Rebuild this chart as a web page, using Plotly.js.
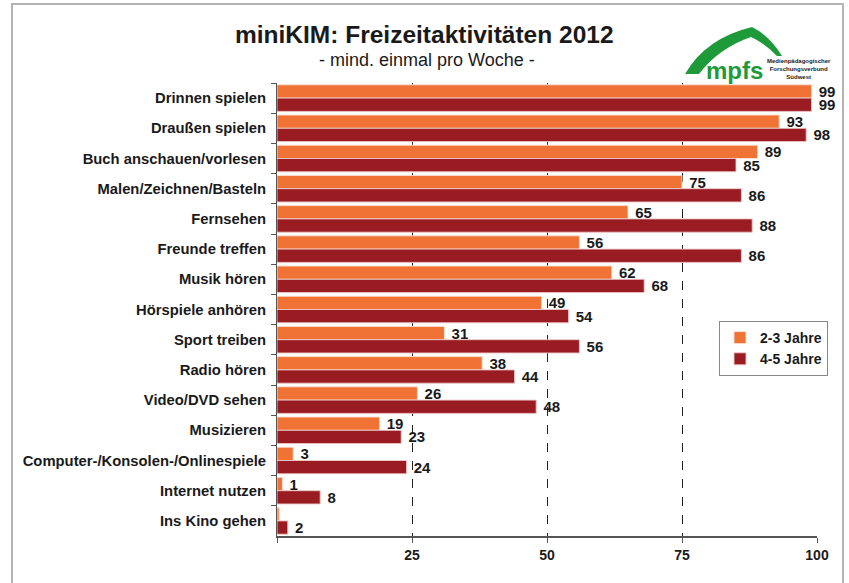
<!DOCTYPE html>
<html>
<head>
<meta charset="utf-8">
<script src="https://cdn.plot.ly/plotly-3.0.1.min.js"></script>
<style>
html,body{margin:0;padding:0;background:#fff;}
#chart{width:849px;height:583px;}
</style>
</head>
<body>
<div id="chart"></div>
<script>
const categories = [
  "Drinnen spielen",
  "Draußen spielen",
  "Buch anschauen/vorlesen",
  "Malen/Zeichnen/Basteln",
  "Fernsehen",
  "Freunde treffen",
  "Musik hören",
  "Hörspiele anhören",
  "Sport treiben",
  "Radio hören",
  "Video/DVD sehen",
  "Musizieren",
  "Computer-/Konsolen-/Onlinespiele",
  "Internet nutzen",
  "Ins Kino gehen"
];
const age23 = [99, 93, 89, 75, 65, 56, 62, 49, 31, 38, 26, 19, 3, 1, 0.4];
const age23Labels = ["99","93","89","75","65","56","62","49","31","38","26","19","3","1",""];
const age45 = [99, 98, 85, 86, 88, 86, 68, 54, 56, 44, 48, 23, 24, 8, 2];
const age45Labels = ["99","98","85","86","88","86","68","54","56","44","48","23","24","8","2"];
const xTicks = [0, 25, 50, 75, 100];
const xTickLabels = ["", "25", "50", "75", "100"];
const seriesNames = ["2-3 Jahre", "4-5 Jahre"];

// layout helpers (pixel -> paper) for decorations
const L = 277, R = 817, T = 83, B = 536;
const px = x => (x - L) / (R - L);
const py = y => (B - y) / (B - T);

const FONT = "Liberation Sans, Arial, sans-serif";
const orange = "#F07234";
const red = "#981C22";

const traces = [
  {
    type: "bar", orientation: "h", name: seriesNames[0],
    y: categories, x: age23, text: age23Labels, texttemplate: "\u00a0%{text}",
    textposition: "outside", constraintext: "none", cliponaxis: false,
    textfont: {family: FONT, size: 15, weight: "bold", color: "#1a1a1a"},
    marker: {color: orange, line: {color: "rgba(255,225,215,0.9)", width: 1}},
    hoverinfo: "x+y"
  },
  {
    type: "bar", orientation: "h", name: seriesNames[1],
    y: categories, x: age45, text: age45Labels, texttemplate: "\u00a0%{text}",
    textposition: "outside", constraintext: "none", cliponaxis: false,
    textfont: {family: FONT, size: 15, weight: "bold", color: "#1a1a1a"},
    marker: {color: red, line: {color: "rgba(240,200,200,0.9)", width: 1}},
    hoverinfo: "x+y"
  }
];

function pathFromPx(cmds) {
  return cmds.map(c => {
    if (typeof c === "string") return c;
    return px(c[0]).toFixed(4) + "," + py(c[1]).toFixed(4);
  }).join(" ");
}

const swoosh = pathFromPx([
  "M", [685, 74],
  "Q", [706, 38], [752, 27],
  "Q", [770, 36], [782, 56],
  "L", [777, 56],
  "Q", [766, 44], [751, 37],
  "Q", [719, 48], [699, 74],
  "Z"
]);

const layout = {
  width: 849, height: 583,
  margin: {l: L, r: 849 - R, t: T, b: 583 - B, pad: 0, autoexpand: false},
  paper_bgcolor: "#ffffff", plot_bgcolor: "#ffffff",
  font: {family: FONT, color: "#1a1a1a"},
  barmode: "group", bargap: 0.12, bargroupgap: 0,
  showlegend: true,
  legend: {
    x: px(719), y: py(321), xanchor: "left", yanchor: "top",
    bgcolor: "#ffffff", bordercolor: "#888888", borderwidth: 1,
    font: {family: FONT, size: 14, weight: "bold", color: "#1a1a1a"},
    tracegroupgap: 2, itemwidth: 30
  },
  xaxis: {
    range: [0, 100], tickvals: xTicks, ticktext: xTickLabels,
    showgrid: true, gridcolor: "#222222", griddash: "dash", gridwidth: 1,
    zeroline: false, showline: true, linecolor: "#555555", linewidth: 2,
    ticks: "outside", ticklen: 5, tickcolor: "#555555", tickwidth: 1,
    tickfont: {family: FONT, size: 14, weight: "bold", color: "#1a1a1a"},
    automargin: false, fixedrange: true
  },
  yaxis: {
    type: "category", autorange: "reversed",
    showgrid: false, zeroline: false,
    showline: true, linecolor: "#555555", linewidth: 1,
    ticks: "outside", tickson: "boundaries", ticklen: 5, tickcolor: "#555555",
    ticklabelstandoff: 7,
    tickfont: {family: FONT, size: 14.8, weight: "bold", color: "#1a1a1a"},
    automargin: false, fixedrange: true
  },
  annotations: [
    {xref: "paper", yref: "paper", x: px(424), y: py(35), xanchor: "center", yanchor: "middle",
     text: "<b>miniKIM: Freizeitaktivitäten 2012</b>", showarrow: false,
     font: {family: FONT, size: 24.5, color: "#1a1a1a"}},
    {xref: "paper", yref: "paper", x: px(427), y: py(60), xanchor: "center", yanchor: "middle",
     text: "- mind. einmal pro Woche -", showarrow: false,
     font: {family: FONT, size: 18, color: "#1a1a1a"}},
    {xref: "paper", yref: "paper", x: px(734), y: py(70), xanchor: "center", yanchor: "middle",
     text: "<b>mpfs</b>", showarrow: false,
     font: {family: FONT, size: 24, color: "#1f9a3a"}},
    {xref: "paper", yref: "paper", x: px(799), y: py(69), xanchor: "center", yanchor: "middle",
     text: "<b>Medienpädagogischer<br>Forschungsverbund<br>Südwest</b>", showarrow: false,
     font: {family: FONT, size: 6, color: "#1a1a1a"}}
  ],
  shapes: [
    {type: "path", xref: "paper", yref: "paper", path: swoosh,
     fillcolor: "#1f9a3a", line: {width: 0}},
    {type: "rect", xref: "paper", yref: "paper", layer: "below",
     x0: px(12), x1: px(843), y0: py(600), y1: py(4),
     line: {color: "#b4b4b4", width: 2}, fillcolor: "rgba(0,0,0,0)"}
  ]
};

Plotly.newPlot("chart", traces, layout, {displayModeBar: false, staticPlot: true});
</script>
</body>
</html>
